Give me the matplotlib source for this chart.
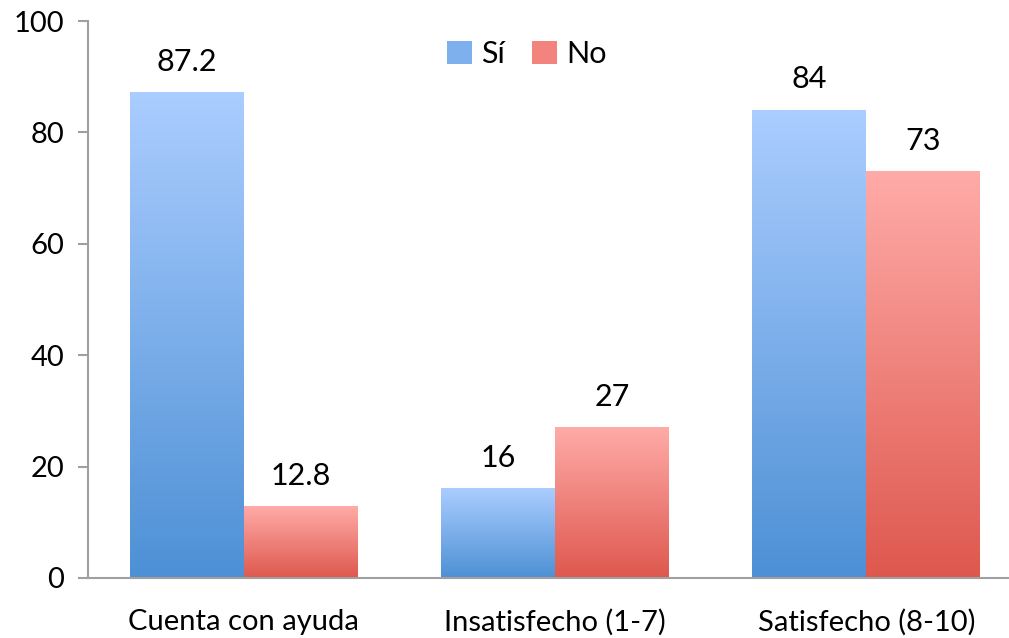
import numpy as np
import matplotlib.pyplot as plt
from matplotlib.colors import LinearSegmentedColormap
from matplotlib.patches import Patch

plt.rcParams['font.family'] = ['Lato', 'DejaVu Sans']
plt.rcParams['text.color'] = 'black'

categories = ['Cuenta con ayuda', 'Insatisfecho (1-7)', 'Satisfecho (8-10)']
si = [87.2, 16, 84]
no = [12.8, 27, 73]
si_labels = ['87.2', '16', '84']
no_labels = ['12.8', '27', '73']

blue = LinearSegmentedColormap.from_list('b', ['#4d90d5', '#abcdff'])
red = LinearSegmentedColormap.from_list('r', ['#de584e', '#ffaba8'])

fig = plt.figure(figsize=(10.09, 6.38), dpi=100)
ax = fig.add_axes([88/1009, 60/638, 934/1009, 557/638])

w = 0.366
x = np.arange(len(categories))
grad = np.linspace(0, 1, 256).reshape(-1, 1)

def gbar(xc, h, cmap):
    ax.imshow(grad, cmap=cmap, origin='lower', aspect='auto',
              extent=(xc - w/2, xc + w/2, 0, h), zorder=2)

for i in range(len(categories)):
    gbar(x[i] - w/2, si[i], blue)
    gbar(x[i] + w/2, no[i], red)
    ax.annotate(si_labels[i], (x[i] - w/2, si[i]), xytext=(0, 12),
                textcoords='offset points', ha='center', va='bottom', fontsize=22)
    ax.annotate(no_labels[i], (x[i] + w/2, no[i]), xytext=(0, 12),
                textcoords='offset points', ha='center', va='bottom', fontsize=22)

ax.set_xlim(-0.5, 2.5)
ax.set_ylim(0, 100)
ax.set_yticks([0, 20, 40, 60, 80, 100])
ax.set_xticks(x)
ax.set_xticklabels(categories)
ax.tick_params(axis='y', labelsize=21, length=7, width=1.5, color='#a0a0a0', direction='out', pad=10,
               labelcolor='black')
ax.tick_params(axis='x', labelsize=21, length=0, pad=22, labelcolor='black')
for s in ['top', 'right']:
    ax.spines[s].set_visible(False)
for s in ['left', 'bottom']:
    ax.spines[s].set_color('#a0a0a0')
    ax.spines[s].set_linewidth(1.5)

handles = [Patch(facecolor='#7fb0ee', label='Sí'), Patch(facecolor='#f2847d', label='No')]
ax.legend(handles=handles, loc='upper center', bbox_to_anchor=(0.47, 1.015), ncol=2, frameon=False,
          fontsize=22, handlelength=0.8, handleheight=0.8, handletextpad=0.3, columnspacing=0.9)

fig.savefig('out.png', dpi=100)
